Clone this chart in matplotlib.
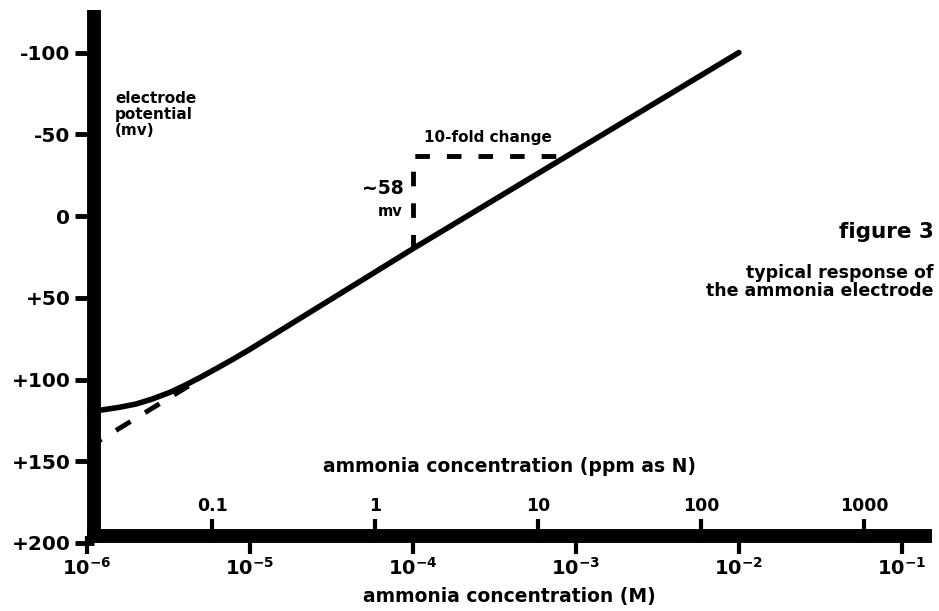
import numpy as np
import matplotlib
matplotlib.use("Agg")
from matplotlib import pyplot as plt
from matplotlib.ticker import NullLocator

plt.rcParams['font.family'] = ['DejaVu Sans']
plt.rcParams['font.weight'] = 'bold'
plt.rcParams['mathtext.fontset'] = 'custom'
plt.rcParams['mathtext.rm'] = 'DejaVu Sans:bold'
plt.rcParams['mathtext.bf'] = 'DejaVu Sans:bold'

# electrode response
conc_M = [1e-6, 1.26e-6, 1.58e-6, 2e-6, 2.5e-6, 3.2e-6, 4e-6, 5e-6,
          6.3e-6, 7.9e-6, 1e-5, 1e-4, 1e-3, 1e-2]
potential_mv = [119.5, 118.5, 117, 115, 112, 108, 103.5, 98.5,
                93, 87.5, 81.5, 20, -40, -100]

# straight-line extrapolation at low concentration
extrap_M = [1e-6, 4.7e-6]
extrap_mv = [142, 101]

# ~58 mv per 10-fold change marker
step_M = [1e-4, 1e-4, 9.1e-4]
step_mv = [20, -37, -37]

m_ticks = [1e-6, 1e-5, 1e-4, 1e-3, 1e-2, 1e-1]
m_labels = [r'$10^{-6}$', r'$10^{-5}$', r'$10^{-4}$', r'$10^{-3}$', r'$10^{-2}$', r'$10^{-1}$']
ppm_ticks = [0.1, 1, 10, 100, 1000]
ppm_labels = ['0.1', '1', '10', '100', '1000']
mv_ticks = [-100, -50, 0, 50, 100, 150, 200]
mv_labels = ['-100', '-50', '0', '+50', '+100', '+150', '+200']

PPM_PER_M = 17000

fig = plt.figure(figsize=(9.39, 6.11), dpi=100)
ax = fig.add_axes([87 / 939, 68 / 611, 845 / 939, 533 / 611])
ax.set_xscale('log')
ax.set_xlim(1e-6, 0.153)
ax.set_ylim(200, -126)

ax.plot(conc_M, potential_mv, color='k', lw=4, solid_capstyle='round', zorder=3)
ax.plot(extrap_M, extrap_mv, color='k', lw=3.5, dashes=(3.5, 3.5), zorder=3)
ax.plot(step_M, step_mv, color='k', lw=3.5, dashes=(3, 3.5), zorder=3)

# thick axis bars
for s in ['top', 'right']:
    ax.spines[s].set_visible(False)
for s in ['left', 'bottom']:
    ax.spines[s].set_linewidth(10)
    ax.spines[s].set_capstyle('butt')
    ax.spines[s].set_position(('outward', -5))
    ax.spines[s].set_zorder(4)

ax.set_yticks(mv_ticks, mv_labels)
ax.tick_params(axis='y', direction='out', length=14, width=3.5, labelsize=14.5, pad=3)
ax.set_xticks(m_ticks, m_labels)
ax.xaxis.set_minor_locator(NullLocator())
ax.tick_params(axis='x', direction='out', length=13, width=3, labelsize=14, pad=2)
ax.set_xlabel('ammonia concentration (M)', fontsize=13.5, fontweight='bold', labelpad=6)

# ppm scale drawn on top of the bottom bar
sec = ax.secondary_xaxis(0, functions=(lambda m: m * PPM_PER_M, lambda p: p / PPM_PER_M))
sec.set_alignment('top')
sec.spines['top'].set_visible(False)
sec.spines['bottom'].set_visible(False)
sec.set_xticks(ppm_ticks, ppm_labels)
sec.xaxis.set_minor_locator(NullLocator())
sec.tick_params(axis='x', direction='out', length=17, width=3, labelsize=12.5, pad=3)
sec.set_xlabel('ammonia concentration (ppm as N)', fontsize=13.5, fontweight='bold', labelpad=18)

ax.text(0.033, 0.848, 'electrode\npotential\n(mv)', transform=ax.transAxes,
        fontsize=11, fontweight='bold', va='top', ha='left', linespacing=1.1)
ax.text(1.17e-4, -48, '10-fold change', fontsize=11, fontweight='bold', va='center', ha='left')
ax.text(8.8e-5, -17, '~58', fontsize=13.5, fontweight='bold', va='center', ha='right')
ax.text(8.6e-5, -3, 'mv', fontsize=10.5, fontweight='bold', va='center', ha='right')

fig.text(934 / 939, 1 - 232 / 611, 'figure 3', fontsize=15.5, fontweight='bold', ha='right', va='center')
fig.text(934 / 939, 1 - 282 / 611, 'typical response of\nthe ammonia electrode', fontsize=12.5,
         fontweight='bold', ha='right', va='center', linespacing=0.95)

fig.savefig('out.png', dpi=100)
